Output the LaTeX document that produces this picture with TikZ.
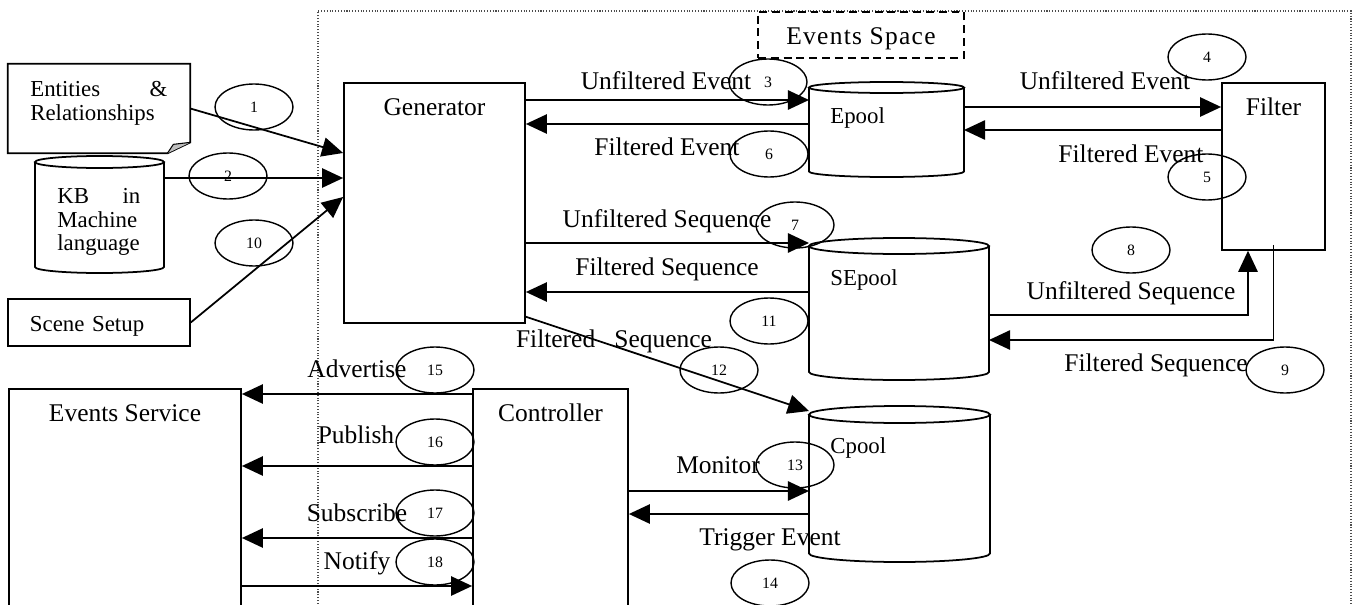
\documentclass[tikz,border=0pt]{standalone}
\usepackage{fontspec}
\setmainfont{Liberation Serif}
\usetikzlibrary{positioning,arrows.meta,shapes.geometric}

% one unit of the drawing grid
\newlength{\px}
\setlength{\px}{0.02cm}
\newcommand{\lblfont}{\fontsize{14.5}{14.5}\selectfont}
\newcommand{\smlfont}{\fontsize{13}{13.4}\selectfont}
\newcommand{\numfont}{\fontsize{9}{10}\selectfont}

\tikzset{
    box/.style={rectangle, draw=black, line width=1pt, inner sep=0pt, font=\lblfont},
    docbox/.style={rectangle, inner sep=0pt, minimum width=182\px},
    pool/.style={rectangle, inner sep=0pt, outer sep=0pt},
    poolline/.style={line width=1pt},
    num/.style={ellipse, draw=black, line width=0.8pt, minimum width=78\px, minimum height=46\px, inner sep=0pt, font=\numfont},
    lbl/.style={font=\lblfont, inner sep=0pt, anchor=base},
    sml/.style={font=\smlfont, inner sep=0pt},
    line/.style={-{Triangle[length=12pt,width=11pt]}, line width=1pt},
}

% storage drum: name, x, y, width, height, cap half-height
\newcommand{\pool}[6]{%
    \node[pool, minimum width=#4\px, minimum height=#5\px] (#1) at (#2,#3) {};
    \draw[poolline] ([yshift=-#6\px]#1.north west) -- ([yshift=#6\px]#1.south west)
        arc[start angle=180, end angle=0, x radius=#4/2, y radius=#6]
        -- ([yshift=-#6\px]#1.north east);
    \draw[poolline] ([yshift=-#6\px]#1.north) ellipse[x radius=#4/2, y radius=#6];
}

\begin{document}
\begin{tikzpicture}[x=\px,y=-\px]
        \useasboundingbox (0,0) rectangle (1353,605);
        \clip (0,0) rectangle (1353,605);

        % Events space frame
        \draw[densely dotted, line width=0.6pt, black!70] (318,660) -- (318,11) -- (1351,11) -- (1351,660);
        \node[box, dashed, dash pattern=on 4.5pt off 2.8pt, minimum width=206\px, text height=33\px, text depth=13\px, anchor=north] (evspace) at (861,11) {\addfontfeature{LetterSpace=5}Events Space};

        % Inputs on the left
        \node[docbox, minimum height=89\px] (ents) at (99,108.5) {};
        \draw[line width=1pt] (ents.north west) -- (ents.north east) -- ([yshift=11\px]ents.south east)
            -- ([xshift=-23\px]ents.south east) -- (ents.south west) -- cycle;
        \filldraw[fill=black!25, line width=0.6pt] ([xshift=-23\px]ents.south east) -- ([xshift=-17\px,yshift=9\px]ents.south east)
            -- ([yshift=11\px]ents.south east);
        \node[sml, text width=137\px, align=left, anchor=north west] (entstxt) at (30,81) {Entities \hfill \&\\Relationships};

        \pool{kb}{99.5}{214.5}{129}{117}{6}
        \node[sml, text width=83\px, align=left, anchor=north west] (kbtxt) at (57,188) {KB \hfill in\\Machine\\language};

        \node[box, font=\smlfont, minimum width=182\px, text width=138\px, align=left, text height=33\px, text depth=14\px, anchor=north] (scene) at (99,298) {Scene Setup};

        % Main blocks
        \node[box, minimum width=181\px, text height=33\px, text depth=207\px, anchor=north] (gen) at (434.5,82) {Generator};
        \node[box, minimum width=103\px, text height=33\px, text depth=134\px, anchor=north] (filter) at (1273.5,82) {Filter};
        \node[box, minimum width=232\px, text height=33\px, text depth=260\px, anchor=north] (evsrv) at (125,388) {Events Service};
        \node[box, minimum width=155\px, text height=33\px, text depth=260\px, anchor=north] (ctrl) at (550.5,388) {Controller};

        % Pools
        \pool{epool}{886.5}{129.5}{155}{95}{5.5}
        \pool{sepool}{899}{309}{180}{142}{8}
        \pool{cpool}{899.5}{484}{181}{156}{8.5}
        \node[sml, anchor=base west] (epooltxt) at (830,123) {Epool};
        \node[sml, anchor=base west] (sepooltxt) at (830,285) {SEpool};
        \node[sml, anchor=base west] (cpooltxt) at (830,453) {Cpool};

        % Lines
        \draw[line] (ents.east) -- (gen.west |- 0,153);
        \draw[line] (kb.east |- 0,178) -- (gen.west |- 0,178);
        \draw[line] (scene.east) -- (gen.west |- 0,197);
        \draw[line] (gen.east |- 0,100) -- (epool.west |- 0,100);
        \draw[line] (epool.west |- 0,124) -- (gen.east |- 0,124);
        \draw[line] (epool.east |- 0,107) -- (filter.west |- 0,107);
        \draw[line] (filter.west |- 0,130) -- (epool.east |- 0,130);
        \draw[line] (gen.east |- 0,243) -- (sepool.west |- 0,243);
        \draw[line] (sepool.west |- 0,292) -- (gen.east |- 0,292);
        \draw[line] (sepool.east |- 0,315) -| ([xshift=-25.5\px]filter.south);
        \draw[line] ([yshift=6\px]filter.south) |- (sepool.east |- 0,340);
        \draw[line] ([yshift=7\px]gen.south east) -- (cpool.west |- 0,411);
        \draw[line] (ctrl.east |- 0,491) -- (cpool.west |- 0,491);
        \draw[line] (cpool.west |- 0,514) -- (ctrl.east |- 0,514);
        \draw[line] (ctrl.west |- 0,394) -- (evsrv.east |- 0,394);
        \draw[line] (ctrl.west |- 0,466) -- (evsrv.east |- 0,466);
        \draw[line] (ctrl.west |- 0,538) -- (evsrv.east |- 0,538);
        \draw[line] (evsrv.east |- 0,586) -- (ctrl.west |- 0,586);

        % Line labels
        \node[lbl] (unfevA) at (666,89) {Unfiltered Event};
        \node[lbl] (fevA) at (667,155) {Filtered Event};
        \node[lbl] (unfevB) at (1105,89) {Unfiltered Event};
        \node[lbl] (fevB) at (1131,162) {Filtered Event};
        \node[lbl] (unfseqA) at (667,227) {Unfiltered Sequence};
        \node[lbl] (fseqA) at (667,275) {Filtered Sequence};
        \node[lbl] (unfseqB) at (1131,299) {Unfiltered Sequence};
        \node[lbl] (fseqB) at (1156,371) {Filtered Sequence};
        \node[lbl] (fseqC) at (614,347) {Filtered~~~Sequence};
        \node[lbl] (adv) at (357,377) {Advertise};
        \node[lbl] (pub) at (356,443) {Publish};
        \node[lbl] (sub) at (357,521) {Subscribe};
        \node[lbl] (ntf) at (357,569) {Notify};
        \node[lbl] (mon) at (718,473) {Monitor};
        \node[lbl] (trig) at (770,545) {Trigger Event};

        % Step numbers
        \node[num] (n1) at (254,107) {1};
        \node[num] (n2) at (228,176) {2};
        \node[num] (n3) at (768,82) {3};
        \node[num] (n4) at (1207,57) {4};
        \node[num] (n5) at (1207,177) {5};
        \node[num] (n6) at (769,154) {6};
        \node[num] (n7) at (795,225) {7};
        \node[num] (n8) at (1131,250) {8};
        \node[num] (n9) at (1285,370) {9};
        \node[num] (n10) at (254,243) {10};
        \node[num] (n11) at (769,321) {11};
        \node[num] (n12) at (719,370) {12};
        \node[num] (n13) at (795,465) {13};
        \node[num] (n14) at (770,583) {14};
        \node[num] (n15) at (435,370) {15};
        \node[num] (n16) at (435,442) {16};
        \node[num] (n17) at (435,513) {17};
        \node[num] (n18) at (435,562) {18};

    \end{tikzpicture}
\end{document}
